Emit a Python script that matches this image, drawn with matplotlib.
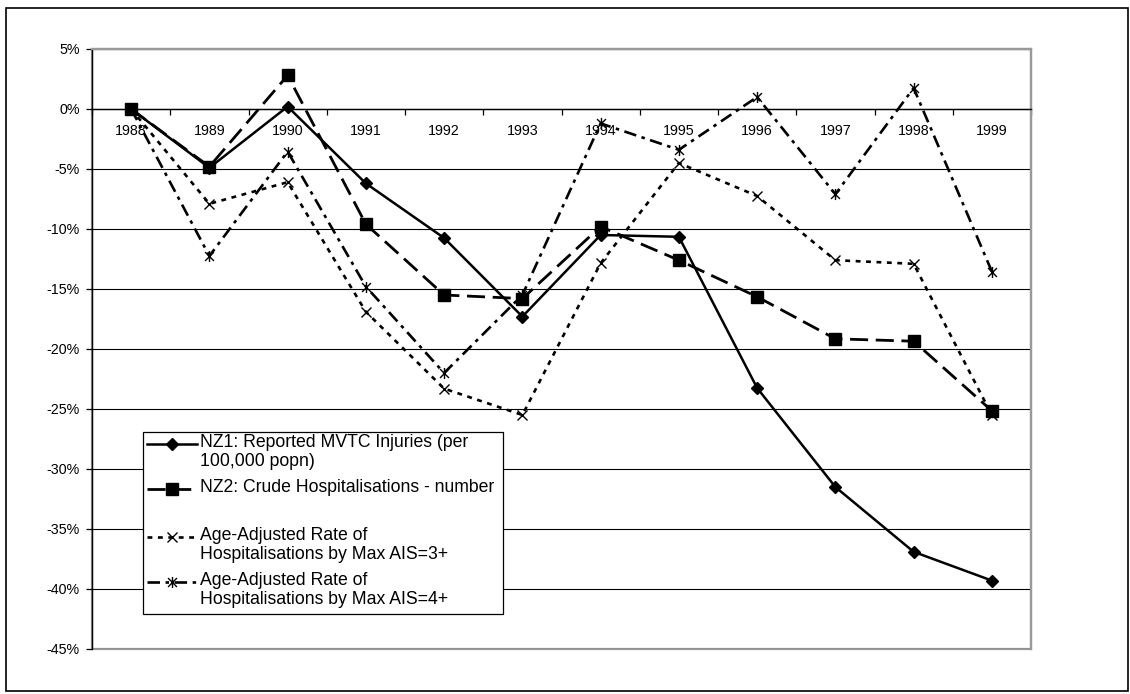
import numpy as np
import matplotlib
matplotlib.use("Agg")
import matplotlib.pyplot as plt
from matplotlib.path import Path
from matplotlib.lines import Line2D
from matplotlib.patches import Rectangle

plt.rcParams['font.family'] = ['Liberation Sans', 'DejaVu Sans']
plt.rcParams['lines.scale_dashes'] = False

years = ['1988', '1989', '1990', '1991', '1992', '1993',
         '1994', '1995', '1996', '1997', '1998', '1999']

# percentage change from 1988
nz1 = [0, -4.9, 0.2, -6.2, -10.75, -17.3, -10.5, -10.65, -23.25, -31.5, -36.9, -39.3]
nz2 = [0, -4.8, 2.8, -9.6, -15.5, -15.8, -9.8, -12.6, -15.65, -19.15, -19.35, -25.15]
ais3 = [0, -7.9, -6.1, -16.9, -23.3, -25.5, -12.85, -4.5, -7.25, -12.6, -12.9, -25.5]
ais4 = [0, -12.25, -3.55, -14.8, -22.0, -15.5, -1.2, -3.4, 1.0, -7.1, 1.75, -13.55]

labels = ['NZ1: Reported MVTC Injuries (per\n100,000 popn)',
          'NZ2: Crude Hospitalisations - number',
          'Age-Adjusted Rate of\nHospitalisations by Max AIS=3+',
          'Age-Adjusted Rate of\nHospitalisations by Max AIS=4+']

W, H = 1130, 694
def fx(px):
    return px / W
def fy(py):
    return 1 - py / H

# x with a vertical bar through it
star = Path([(-1, -1), (1, 1), (-1, 1), (1, -1), (0, -1.25), (0, 1.25)],
            [Path.MOVETO, Path.LINETO, Path.MOVETO, Path.LINETO, Path.MOVETO, Path.LINETO])

styles = [
    dict(color='black', lw=1.8, ls='-', marker='D', ms=6.5, mfc='black', mec='black'),
    dict(color='black', lw=2.0, dashes=(13, 5.5), marker='s', ms=8, mfc='black', mec='black'),
    dict(color='black', lw=1.9, dashes=(3.5, 4), marker='x', ms=7, mew=1.0, mec='black'),
    dict(color='black', lw=1.9, dashes=(9, 4, 2.5, 4), marker=star, ms=8, mew=1.0, mec='black'),
]

fig = plt.figure(figsize=(W / 100, H / 100), dpi=100)
ax = fig.add_axes([fx(92), fy(649), fx(1031) - fx(92), fy(49) - fy(649)])

x = np.arange(len(years))
for series, st in zip([nz1, nz2, ais3, ais4], styles):
    ax.plot(x, series, zorder=3, clip_on=False, **st)

ax.set_xlim(-0.5, len(years) - 0.5)
ax.set_ylim(-45, 5)

ax.set_yticks(np.arange(-45, 6, 5))
ax.set_yticklabels(['%d%%' % v for v in np.arange(-45, 6, 5)])
ax.yaxis.grid(True, color='black', lw=0.8)
ax.set_axisbelow(True)

ax.set_xticks(np.arange(-0.5, len(years), 1))
ax.set_xticklabels([])
ax.set_xticks(x, minor=True)
ax.set_xticklabels(years, minor=True)
ax.tick_params(axis='x', which='major', direction='out', length=4, width=0.9, color='black')
ax.tick_params(axis='x', which='minor', length=0, pad=11, labelsize=10.3)
ax.tick_params(axis='y', direction='out', length=4, width=0.9, pad=5, labelsize=10.3)

ax.spines['bottom'].set_position(('data', 0))
ax.spines['bottom'].set_linewidth(1.0)
ax.spines['left'].set_linewidth(1.0)
for side in ['top', 'right']:
    ax.spines[side].set_color('#999999')
    ax.spines[side].set_linewidth(1.6)
ax.add_patch(Rectangle((0, 0), 1, 1, transform=ax.transAxes, fill=False,
                       ec='#999999', lw=1.6, zorder=0.5, clip_on=False))

# legend box
fig.add_artist(Rectangle((fx(143), fy(614)), fx(503) - fx(143), fy(432) - fy(614),
                         transform=fig.transFigure, fc='white', ec='black', lw=0.9, zorder=5))
rows = [444, 489, 537, 582]
for row, lab, st in zip(rows, labels, styles):
    key = dict(st)
    key['markevery'] = [1]
    fig.add_artist(Line2D([fx(147), fx(172), fx(197)], [fy(row)] * 3,
                          transform=fig.transFigure, zorder=6, **key))
    fig.text(fx(200), fy(row - 10), lab, ha='left', va='top', fontsize=12.7,
             linespacing=1.15, zorder=6)

# outer chart frame
fig.add_artist(Rectangle((fx(6), fy(691)), fx(1128) - fx(6), fy(8) - fy(691),
                         transform=fig.transFigure, fill=False, ec='black', lw=1.2))

fig.savefig('out.png', dpi=100)
